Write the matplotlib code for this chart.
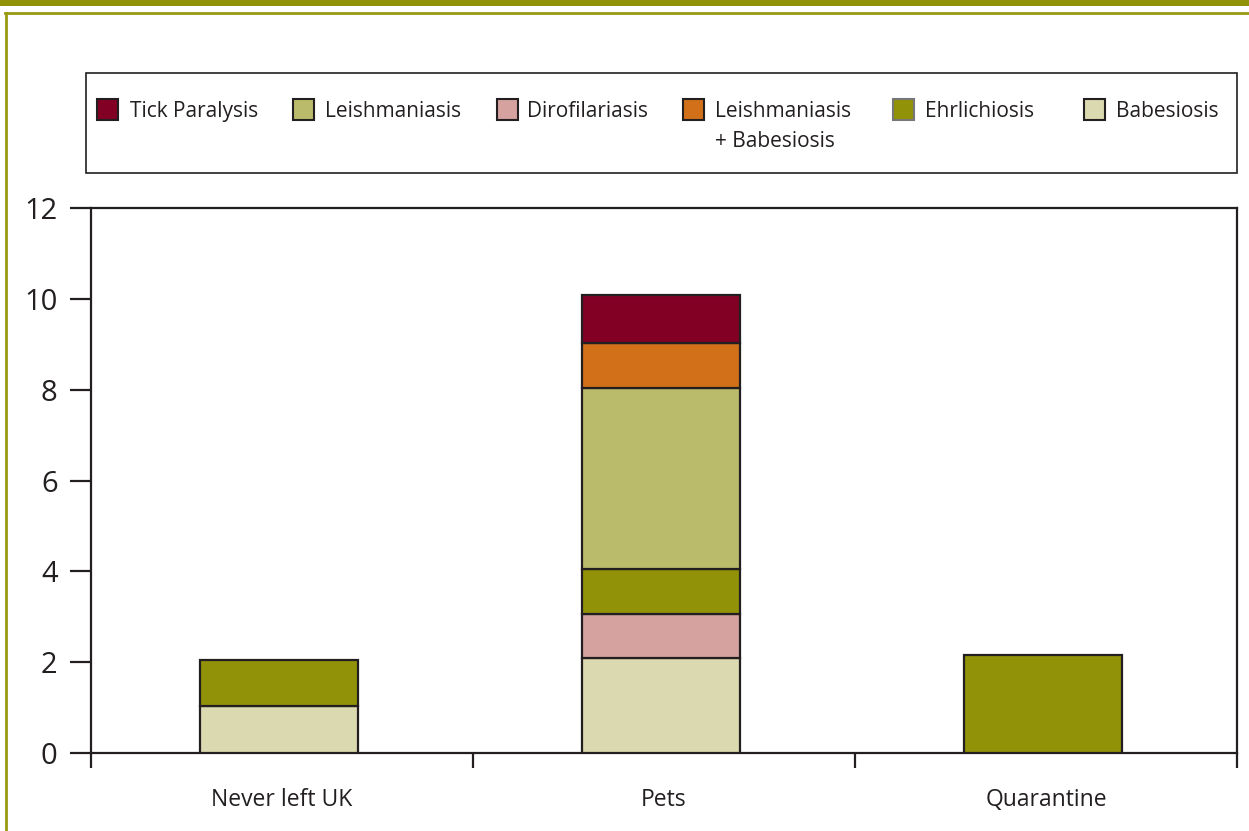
import matplotlib
matplotlib.use("Agg")
from matplotlib import pyplot as plt
from matplotlib.patches import Rectangle
from matplotlib.lines import Line2D
import numpy as np

plt.rcParams['font.family'] = ['Open Sans', 'DejaVu Sans']

groups = ["Never left UK", "Pets", "Quarantine"]

# stacking order bottom -> top
babesiosis = [1.03, 2.09, 0]
dirofilariasis = [0, 0.97, 0]
ehrlichiosis = [1.02, 0.99, 2.15]
leishmaniasis = [0, 3.99, 0]
leish_babes = [0, 0.99, 0]
tick_paralysis = [0, 1.06, 0]

series = [
    ("Babesiosis", babesiosis, "#dbd9af"),
    ("Dirofilariasis", dirofilariasis, "#d5a29f"),
    ("Ehrlichiosis", ehrlichiosis, "#919208"),
    ("Leishmaniasis", leishmaniasis, "#bbbb6c"),
    ("Leishmaniasis\n+ Babesiosis", leish_babes, "#d2701a"),
    ("Tick Paralysis", tick_paralysis, "#830025"),
]
legend_order = ["Tick Paralysis", "Leishmaniasis", "Dirofilariasis",
                "Leishmaniasis\n+ Babesiosis", "Ehrlichiosis", "Babesiosis"]

yticks = [0, 2, 4, 6, 8, 10, 12]

DARK = "#231f20"
OLIVE = "#9a9a12"
W, H = 1249, 831

fig = plt.figure(figsize=(W / 100, H / 100), dpi=100)
ax = fig.add_axes([91 / W, 1 - 753 / H, (1237 - 91) / W, (753 - 208) / H])

x = np.arange(len(groups))
bottom = np.zeros(len(groups))
for name, vals, col in series:
    vals = np.array(vals, dtype=float)
    mask = vals > 0
    ax.bar(x[mask] - 0.008, vals[mask], width=0.412, bottom=bottom[mask], color=col,
           edgecolor=DARK, linewidth=1.6, zorder=3)
    bottom += vals

ax.set_xlim(-0.5, 2.5)
ax.set_ylim(0, 12)
ax.set_yticks(yticks)
ax.set_yticklabels([str(v) for v in yticks], fontsize=21, color=DARK)
ax.tick_params(axis='y', length=15, width=1.6, color=DARK, pad=9)
ax.set_xticks(x)
ax.set_xticklabels(groups, fontsize=16.5, color=DARK)
ax.set_xticks([-0.5, 0.5, 1.5, 2.5], minor=True)
ax.tick_params(axis='x', which='major', length=0, pad=25)
ax.tick_params(axis='x', which='minor', length=11, width=1.6, color=DARK)
for s in ax.spines.values():
    s.set_linewidth(1.6)
    s.set_color(DARK)

# legend drawn by hand in figure pixels
fig.patches.append(Rectangle((86 / W, 1 - 173 / H), (1237 - 86) / W, 100 / H,
                             transform=fig.transFigure, facecolor="white",
                             edgecolor=DARK, linewidth=1.2))
colors = {n: c for n, _, c in series}
hx = [97, 293, 497, 683, 893, 1084]
tx = [130, 325, 527, 715, 925, 1116]
for px, tpx, name in zip(hx, tx, legend_order):
    ec = "#777777" if name == "Ehrlichiosis" else DARK
    fig.patches.append(Rectangle((px / W, 1 - 120 / H), 21 / W, 21 / H,
                                 transform=fig.transFigure, facecolor=colors[name],
                                 edgecolor=ec, linewidth=1.5))
    fig.text(tpx / W, 1 - 101 / H, name, fontsize=15, color=DARK,
             va='top', ha='left', linespacing=1.55)

# olive frame
fig.patches.append(Rectangle((0, 1 - 6 / H), 1, 6 / H, transform=fig.transFigure,
                             facecolor="#929208", edgecolor="none"))
fig.lines.append(Line2D([5 / W, 1], [1 - 13 / H, 1 - 13 / H], transform=fig.transFigure,
                        color=OLIVE, linewidth=2))
fig.lines.append(Line2D([6 / W, 6 / W], [1 - 13 / H, 0], transform=fig.transFigure,
                        color=OLIVE, linewidth=2))

fig.savefig("out.png", dpi=100)
